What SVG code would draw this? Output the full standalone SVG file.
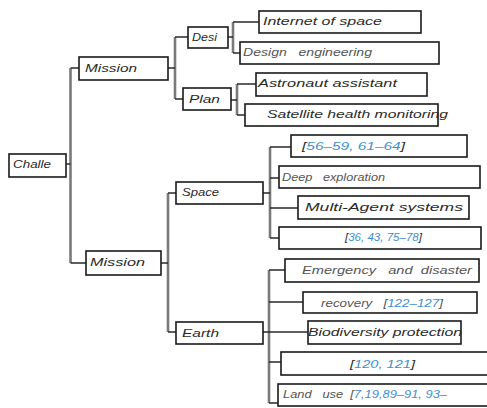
<svg xmlns="http://www.w3.org/2000/svg" width="487" height="408" viewBox="0 0 487 408">
<style>
.box{fill:#fff;stroke:#1a1a1a;stroke-width:1.6}
.t{font-family:"Liberation Sans",Arial,sans-serif;font-style:italic;font-size:11.5px;fill:#2a2a2a}
.l{fill:#555}
.b{fill:#3f8fcf}
.v{stroke:#7a7a7a;stroke-width:2.6;fill:none}
.h{stroke:#2a2a2a;stroke-width:1.4;fill:none}
</style>
<rect width="487" height="408" fill="#fff"/>
<g id="connectors">
<path class="v" d="M70.5 68V263M175 37V99M233 22V53M237 84V115M168 193V332M270 147V238M269 270V403"/>
<path class="h" d="M66 164H70.5M70.5 68H79M70.5 263H86M168 68H175M175 37H188M175 99H183M228 37H233M233 22H259M233 53H240M231 100H237M237 84H256M237 115H245M161 263H168M168 193H176M168 332H176M263 193H270M270 147H291M270 178H279M270 208H298M270 238H279M263 332H308M269 270H285M269 302H303M269 362H281M269 403H278"/>
</g>
<g id="challe"><rect class="box" x="9" y="154" width="57" height="23"/><text class="t" x="13" y="168" textLength="38" lengthAdjust="spacingAndGlyphs">Challe</text></g>
<g id="mission1"><rect class="box" x="79" y="57" width="89" height="23"/><text class="t" x="85" y="72" textLength="52" lengthAdjust="spacingAndGlyphs">Mission</text></g>
<g id="mission2"><rect class="box" x="86" y="251" width="75" height="24"/><text class="t" x="90" y="266" textLength="55" lengthAdjust="spacingAndGlyphs">Mission</text></g>
<g id="desi"><rect class="box" x="188" y="27" width="40" height="21"/><text class="t" x="192" y="41" textLength="25" lengthAdjust="spacingAndGlyphs">Desi</text></g>
<g id="plan"><rect class="box" x="183" y="88" width="48" height="22"/><text class="t" x="189" y="103" textLength="31" lengthAdjust="spacingAndGlyphs">Plan</text></g>
<g id="space"><rect class="box" x="176" y="182" width="87" height="22"/><text class="t" x="182" y="196" textLength="37" lengthAdjust="spacingAndGlyphs">Space</text></g>
<g id="earth"><rect class="box" x="176" y="322" width="87" height="22"/><text class="t" x="182" y="337" textLength="37" lengthAdjust="spacingAndGlyphs">Earth</text></g>
<g id="internet"><rect class="box" x="259" y="11" width="162" height="22"/><text class="t" x="263" y="25" textLength="119" lengthAdjust="spacingAndGlyphs">Internet of space</text></g>
<g id="design"><rect class="box" x="240" y="42" width="199" height="22"/><text class="t l" x="243" y="56" textLength="129" lengthAdjust="spacingAndGlyphs" xml:space="preserve">Design   engineering</text></g>
<g id="astronaut"><rect class="box" x="256" y="73" width="171" height="23"/><text class="t" x="258" y="87" textLength="139" lengthAdjust="spacingAndGlyphs">Astronaut assistant</text></g>
<g id="satellite"><rect class="box" x="245" y="104" width="193" height="22"/><text class="t" x="267" y="118" textLength="181" lengthAdjust="spacingAndGlyphs">Satellite health monitoring</text></g>
<g id="ref1"><rect class="box" x="291" y="135" width="176" height="22"/><text class="t" x="302" y="150" textLength="103" lengthAdjust="spacingAndGlyphs">[<tspan class="b">56–59, 61–64</tspan>]</text></g>
<g id="deep"><rect class="box" x="279" y="166" width="201" height="22"/><text class="t l" x="282" y="181" textLength="103" lengthAdjust="spacingAndGlyphs" xml:space="preserve">Deep   exploration</text></g>
<g id="multi"><rect class="box" x="298" y="196" width="171" height="23"/><text class="t" x="305" y="211" textLength="158" lengthAdjust="spacingAndGlyphs">Multi-Agent systems</text></g>
<g id="ref2"><rect class="box" x="279" y="227" width="202" height="22"/><text class="t" x="345" y="241" textLength="77" lengthAdjust="spacingAndGlyphs">[<tspan class="b">36, 43, 75–78</tspan>]</text></g>
<g id="emergency"><rect class="box" x="285" y="259" width="194" height="23"/><text class="t l" x="302" y="274" textLength="170" lengthAdjust="spacingAndGlyphs" xml:space="preserve">Emergency   and  disaster</text></g>
<g id="recovery"><rect class="box" x="303" y="292" width="174" height="21"/><text class="t l" x="321" y="307" textLength="122" lengthAdjust="spacingAndGlyphs" xml:space="preserve">recovery   [<tspan class="b">122–127</tspan>]</text></g>
<g id="biodiversity"><rect class="box" x="308" y="321" width="153" height="23"/><text class="t" x="308" y="336" textLength="154" lengthAdjust="spacingAndGlyphs">Biodiversity protection</text></g>
<g id="ref3"><rect class="box" x="281" y="352" width="212" height="23"/><text class="t" x="350" y="368" textLength="65" lengthAdjust="spacingAndGlyphs">[<tspan class="b">120, 121</tspan>]</text></g>
<g id="landuse"><rect class="box" x="278" y="384" width="215" height="22"/><text class="t l" x="283" y="398" textLength="164" lengthAdjust="spacingAndGlyphs" xml:space="preserve">Land   use  [<tspan class="b">7,19,89–91, 93–</tspan></text></g>
</svg>
